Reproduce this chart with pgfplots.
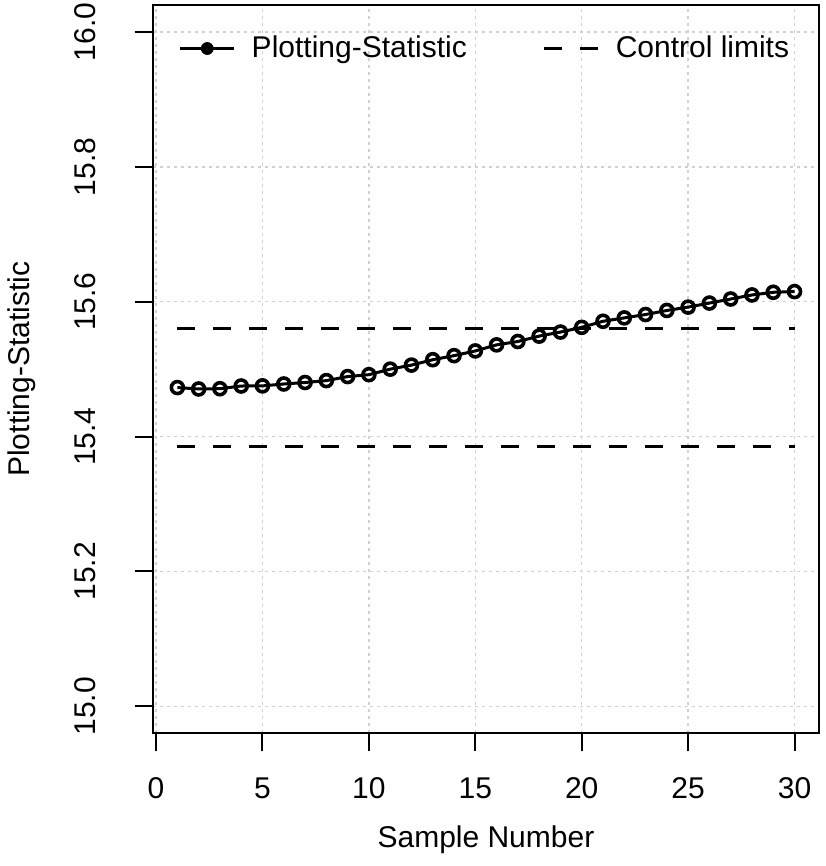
\documentclass[border=0pt]{standalone}
\usepackage{fontspec}
\setmainfont{Liberation Sans}
\usepackage{pgfplots}
\pgfplotsset{compat=1.18}

\pgfplotstableread{
n   stat
1   15.4727
2   15.4706
3   15.4710
4   15.4750
5   15.4752
6   15.4780
7   15.4802
8   15.4830
9   15.4890
10  15.4918
11  15.5000
12  15.5060
13  15.5140
14  15.5200
15  15.5270
16  15.5360
17  15.5410
18  15.5490
19  15.5550
20  15.5620
21  15.5710
22  15.5760
23  15.5810
24  15.5870
25  15.5920
26  15.5980
27  15.6040
28  15.6100
29  15.6140
30  15.6150
}\statdata

\begin{document}
\fontsize{15}{18}\selectfont
\begin{tikzpicture}
\begin{axis}[
  scale only axis,
  width=333.3pt, height=364.2pt,
  xmin=-0.16, xmax=31.16,
  ymin=14.96, ymax=16.04,
  xtick={0,5,10,15,20,25,30},
  ytick={15.0,15.2,15.4,15.6,15.8,16.0},
  tick pos=left,
  tick align=outside,
  major tick length=9pt,
  tick style={black, line width=1pt},
  axis line style={line width=1pt},
  grid=major,
  grid style={black!18, line width=0.75pt, dash pattern=on 1.5pt off 2pt},
  /pgf/number format/assume math mode=true,
  xticklabel style={anchor=north, inner sep=0pt},
  xticklabel shift=13pt,
  yticklabel style={rotate=90, anchor=south, inner sep=0pt,
    /pgf/number format/.cd, fixed, fixed zerofill, precision=1},
  yticklabel shift=19pt,
  xlabel={Sample Number},
  ylabel={Plotting-Statistic},
  xlabel style={at={(axis description cs:0.5,0)}, anchor=center, yshift=-53.3pt},
  ylabel style={at={([xshift=-65.3pt]axis description cs:0,0.5)}, anchor=center},
  legend columns=2,
  legend style={draw=none, fill=none, at={(0.5,1)}, anchor=north,
    yshift=-11pt, font=\fontsize{15}{18}\selectfont,
    /tikz/every odd column/.append style={column sep=6pt},
    /tikz/every even column/.append style={column sep=36pt}},
  clip=false,
]
\addplot[black, dash pattern=on 9pt off 9pt, line width=1.5pt, forget plot]
  coordinates {(1,15.560) (30,15.560)};
\addplot[black, dash pattern=on 9pt off 9pt, line width=1.5pt, forget plot]
  coordinates {(1,15.385) (30,15.385)};
\addplot[black, line width=1.5pt, mark=o, mark size=3pt,
  mark options={line width=1.8pt}, forget plot] table[x=n, y=stat] {\statdata};

\addlegendimage{legend image code/.code={
  \draw[black, line width=1.5pt] (0pt,0pt) -- (27pt,0pt);
  \fill[black] (13.5pt,0pt) circle (3pt);}}
\addlegendentry{Plotting-Statistic}
\addlegendimage{legend image code/.code={
  \draw[black, line width=1.5pt, dash pattern=on 9pt off 9pt] (0pt,0pt) -- (27pt,0pt);}}
\addlegendentry{Control limits}
\end{axis}
\pgfresetboundingbox
\path ([xshift=-76.35pt, yshift=-66.35pt]current axis.south west)
  rectangle ([xshift=3.35pt, yshift=2.5pt]current axis.north east);
\end{tikzpicture}
\end{document}
